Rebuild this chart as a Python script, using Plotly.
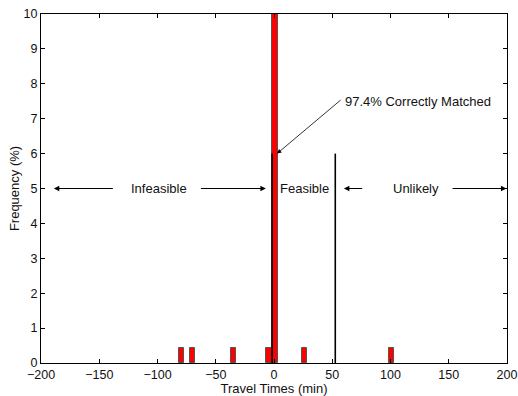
import plotly.graph_objects as go

# Histogram of travel-time differences (minutes) and share of trips per bin (%)
bin_centers = [-79.2, -69.6, -34.4, -4.3, 0.85, 25.9, 100.6]
frequency = [0.43, 0.43, 0.43, 0.43, 97.4, 0.43, 0.43]
bin_width = 4.3

# Limits of the feasible travel-time window (minutes)
feasible_bounds = [-1.6, 52.6]
bound_height = 6

x_ticks = [-200, -150, -100, -50, 0, 50, 100, 150, 200]
y_ticks = list(range(0, 11))

font = dict(family="Liberation Sans, Arial, sans-serif", size=13, color="#111")
tick_font = dict(family="Liberation Sans, Arial, sans-serif", size=12.5, color="#111")

fig = go.Figure()

fig.add_trace(go.Bar(
    x=bin_centers, y=frequency, width=bin_width,
    marker=dict(color="#ff0000", line=dict(color="#555555", width=1)),
    showlegend=False, hoverinfo="skip",
))

for xb in feasible_bounds:
    fig.add_trace(go.Scatter(
        x=[xb, xb], y=[0, bound_height], mode="lines",
        line=dict(color="black", width=1.6), showlegend=False, hoverinfo="skip",
    ))

def arrow(x_head, x_tail, y):
    return dict(x=x_head, y=y, ax=x_tail, ay=y, xref="x", yref="y",
                axref="x", ayref="y", text="", showarrow=True,
                arrowhead=2, arrowsize=1.1, arrowwidth=1, arrowcolor="black")

annotations = [
    arrow(-189, -137, 5),
    arrow(-7, -64, 5),
    arrow(60, 77, 5),
    arrow(199.5, 152, 5),
    dict(x=-99, y=5, text="Infeasible", showarrow=False, xref="x", yref="y", font=font),
    dict(x=26, y=5, text="Feasible", showarrow=False, xref="x", yref="y", font=font),
    dict(x=121.5, y=5, text="Unlikely", showarrow=False, xref="x", yref="y", font=font),
    dict(x=2.6, y=6.0, ax=58.5, ay=7.57, xref="x", yref="y", axref="x", ayref="y",
         text="", showarrow=True, arrowhead=2, arrowsize=1.1, arrowwidth=0.8,
         arrowcolor="black"),
    dict(x=59.5, y=7.5, text="97.4% Correctly Matched", showarrow=False,
         xref="x", yref="y", xanchor="left", font=font),
]

fig.update_layout(
    width=518, height=396,
    margin=dict(l=41, r=11, t=14, b=33),
    paper_bgcolor="white", plot_bgcolor="white",
    font=font,
    bargap=0,
    annotations=annotations,
    xaxis=dict(
        range=[-200, 200], tickvals=x_ticks, ticks="inside", ticklen=4,
        tickcolor="black", showline=True, linecolor="black", linewidth=1.2,
        mirror="ticks", showgrid=False, zeroline=False, automargin=False,
        title=dict(text="Travel Times (min)", standoff=0, font=font),
        tickfont=tick_font,
    ),
    yaxis=dict(
        range=[0, 10], tickvals=y_ticks, ticks="inside", ticklen=4,
        tickcolor="black", showline=True, linecolor="black", linewidth=1.2,
        mirror="ticks", showgrid=False, zeroline=False, automargin=False,
        title=dict(text="Frequency (%)", standoff=0, font=font),
        tickfont=tick_font,
    ),
)

fig.write_html("out.html")
